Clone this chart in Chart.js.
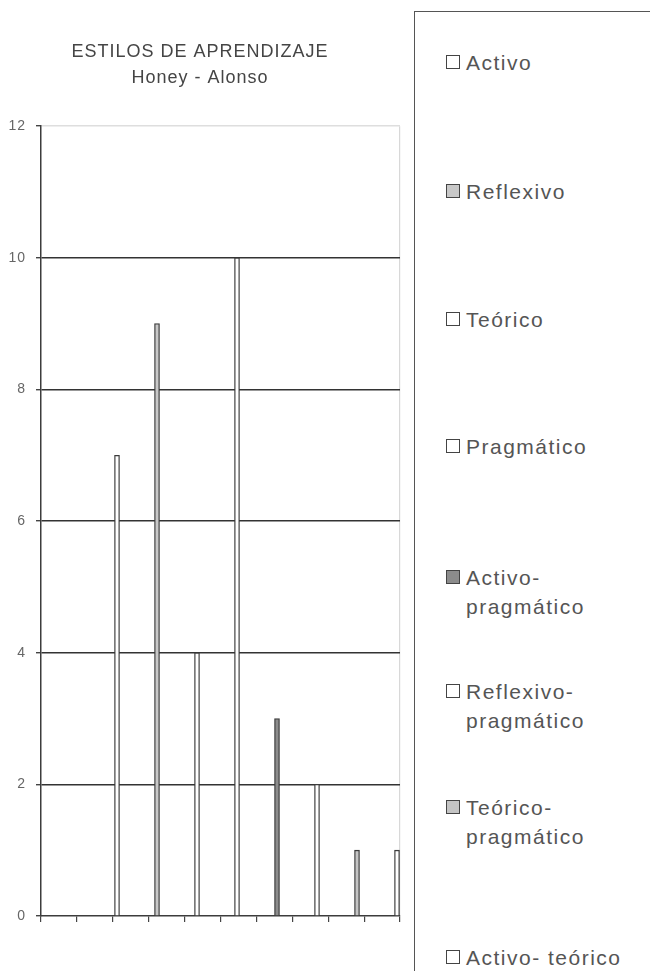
<!DOCTYPE html>
<html>
<head>
<meta charset="utf-8">
<script src="https://cdn.jsdelivr.net/npm/chart.js@4.4.1/dist/chart.umd.min.js"></script>
<style>
  html, body { margin: 0; padding: 0; background: #fff; overflow: hidden; }
  #wrap { position: absolute; left: 0; top: 0; width: 412px; height: 971px; }
  #legend { position: absolute; left: 414px; top: 11px; width: 300px; height: 1000px;
            border-left: 1.5px solid #555; border-top: 1.5px solid #555;
            font-family: "Liberation Sans", Arial, sans-serif; }
  .item { position: absolute; left: 31px; display: flex; align-items: flex-start; }
  .box { width: 12px; height: 12px; border: 1.3px solid #444; margin-top: 7px; margin-right: 6px; flex: none; }
  .txt { font-size: 21px; line-height: 29px; letter-spacing: 1.5px; color: #555; width: 178px; }
</style>
</head>
<body>
<div id="wrap"><canvas id="myChart"></canvas></div>
<div id="legend"></div>
<script>
// data
var categories = ['Activo', 'Reflexivo', 'Teórico', 'Pragmático', 'Activo-pragmático',
                  'Reflexivo-pragmático', 'Teórico-pragmático', 'Activo- teórico'];
var values = [7, 9, 4, 10, 3, 2, 1, 1];
var yTicks = [0, 2, 4, 6, 8, 10, 12];
var titleLines = ['ESTILOS DE APRENDIZAJE', 'Honey - Alonso'];

// styling (greys of the scanned original)
var fills = ['#ffffff', '#c8c8c8', '#ffffff', '#ffffff', '#8c8c8c', '#ffffff', '#c4c4c4', '#ffffff'];
var legendTops = [36, 165, 293, 420, 551, 665, 781, 931];
var font = '"Liberation Sans", Arial, sans-serif';

// one series per style, like the excel original
var datasets = categories.map(function(name, i) {
  return {
    label: name,
    data: [{ x: i, y: values[i] }],
    xAxisID: 'xb',
    backgroundColor: fills[i],
    borderColor: '#3c3c3c',
    borderWidth: 1.3,
    barThickness: 5,
    grouped: false
  };
});

// canvas text in the scan is a bit spread out
var spacing = {
  id: 'spacing',
  beforeDraw: function(chart) { chart.ctx.letterSpacing = '1px'; }
};

var myChart = new Chart(document.getElementById('myChart'), {
  type: 'bar',
  data: { datasets: datasets },
  plugins: [spacing],
  options: {
    responsive: true,
    maintainAspectRatio: false,
    animation: false,
    layout: { padding: { left: 0, right: 12, top: 0, bottom: 0 } },
    plugins: {
      legend: { display: false },
      tooltip: { enabled: false },
      title: {
        display: true,
        text: titleLines,
        color: '#454545',
        font: { family: font, size: 18, weight: 'normal', lineHeight: 1.45 },
        padding: { top: 39, bottom: 35 }
      }
    },
    scales: {
      x: {
        type: 'linear', position: 'bottom', min: 0, max: 10, offset: false,
        ticks: { stepSize: 1, callback: function() { return ''; } },
        grid: {
          offset: false,
          color: function(c) { return c.tick && c.tick.value === 10 ? '#d8d8d8' : 'rgba(0,0,0,0)'; },
          tickColor: '#444', tickLength: 6, lineWidth: 1.2
        },
        border: { color: '#3c3c3c', width: 1.5 },
        afterFit: function(s) { s.height = 55; }
      },
      xb: { type: 'linear', display: false, offset: false, grid: { offset: false }, min: -1.9, max: 7.075 },
      y: {
        min: 0, max: 12,
        afterBuildTicks: function(a) { a.ticks = yTicks.map(function(v) { return { value: v }; }); },
        ticks: { color: '#666', font: { family: font, size: 14 }, padding: 10 },
        grid: {
          color: function(c) {
            if (c.tick.value === 12) return '#dedede';
            if (c.tick.value === 0) return 'rgba(0,0,0,0)';
            return '#333';
          },
          lineWidth: 1.4, tickColor: '#444', tickLength: 5
        },
        border: { color: '#3c3c3c', width: 1.5 },
        afterFit: function(s) { s.width = 41; }
      }
    }
  }
});

// html legend built from the chart's own datasets
var legend = document.getElementById('legend');
myChart.data.datasets.forEach(function(ds, i) {
  var item = document.createElement('div');
  item.className = 'item';
  item.style.top = legendTops[i] + 'px';
  var box = document.createElement('span');
  box.className = 'box';
  box.style.background = ds.backgroundColor;
  var txt = document.createElement('span');
  txt.className = 'txt';
  txt.textContent = ds.label;
  item.appendChild(box);
  item.appendChild(txt);
  legend.appendChild(item);
});
</script>
</body>
</html>
